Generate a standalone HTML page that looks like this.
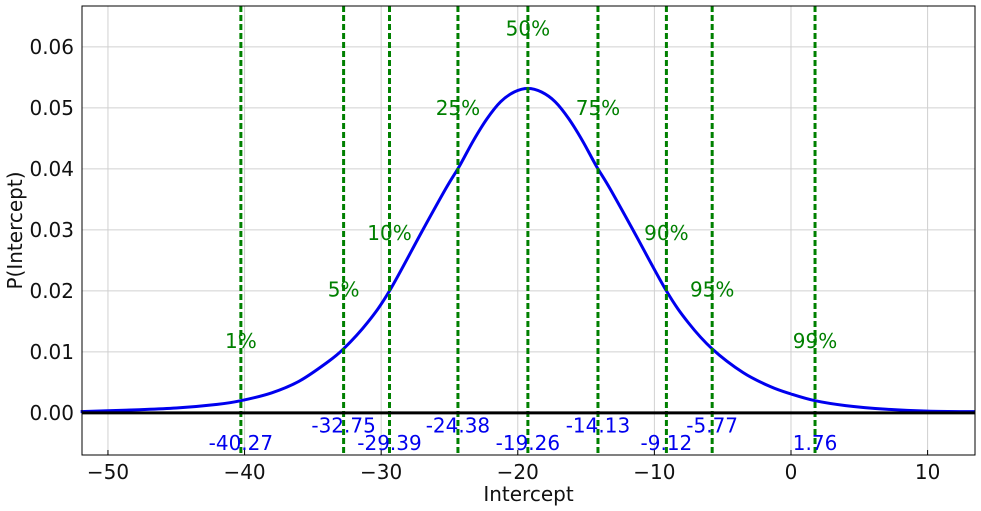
<!DOCTYPE html>
<html><head><meta charset="utf-8"><style>
body{margin:0;background:#fff;}
svg{display:block;font-family:"DejaVu Sans","Liberation Sans",sans-serif;}
</style></head><body>
<svg id="chart" width="981" height="511" viewBox="0 0 981 511" xmlns="http://www.w3.org/2000/svg"></svg>
<script>
const xTicks=[-50,-40,-30,-20,-10,0,10];
const yTicks=[0.00,0.01,0.02,0.03,0.04,0.05,0.06];
const curveX=[-52,-48,-45,-42,-40.27,-38,-36,-34,-32.75,-31,-29.39,-27,-25.26,-24.26,-23.26,-22.26,-21.26,-20.26,-19.26,-18.26,-17.26,-16.26,-15.26,-14.26,-13.26,-11.52,-9.12,-7.52,-5.77,-3.5,-1.5,0,1.76,4,7,10,13.5];
const curveY=[0.0002,0.0005,0.0008,0.0014,0.0020,0.0033,0.0052,0.0082,0.0105,0.0148,0.0200,0.0298,0.0368,0.0405,0.0446,0.0482,0.0510,0.0526,0.0532,0.0526,0.0510,0.0482,0.0446,0.0405,0.0368,0.0298,0.0200,0.0148,0.0105,0.0066,0.0043,0.0031,0.0020,0.0012,0.0006,0.0003,0.0002];
const qPct=["1%","5%","10%","25%","50%","75%","90%","95%","99%"];
const qVal=[-40.27,-32.75,-29.39,-24.38,-19.26,-14.13,-9.12,-5.77,1.76];
const qPctY=[0.0118,0.0202,0.0295,0.050,0.063,0.050,0.0295,0.0202,0.0118];
const qValY=[-0.0049,-0.0021,-0.0049,-0.0021,-0.0049,-0.0021,-0.0049,-0.0021,-0.0049];

const L=82,R=975,T=6,B=455;
const xMin=-51.9,xMax=13.47,yMin=-0.0069,yMax=0.0667;
const sx=v=>L+(v-xMin)/(xMax-xMin)*(R-L);
const sy=v=>B-(v-yMin)/(yMax-yMin)*(B-T);
const svg=document.getElementById('chart');
const NS="http://www.w3.org/2000/svg";
function mk(tag,attrs,parent){const e=document.createElementNS(NS,tag);for(const k in attrs)e.setAttribute(k,attrs[k]);(parent||svg).appendChild(e);return e;}

xTicks.forEach(t=>{
  const g=mk('line',{x1:sx(t),x2:sx(t),y1:T,y2:B,stroke:'#d0d0d0','stroke-width':1});
  
  
  const tk=mk('line',{x1:sx(t),x2:sx(t),y1:B,y2:B-5,stroke:'#000'});
  
  
  const lb=mk('text',{x:sx(t),y:B+24,'text-anchor':'middle','font-size':20,fill:'#111'});
  lb.textContent=(t<0?'\u2212'+(-t):t);
  
  
});
yTicks.forEach(t=>{
  const g=mk('line',{x1:L,x2:R,y1:sy(t),y2:sy(t),stroke:'#d0d0d0','stroke-width':1});
  
  
  const lb=mk('text',{x:L-8,y:sy(t)+7,'text-anchor':'end','font-size':20,fill:'#111'});
  lb.textContent=t.toFixed(2);
  
  
});

const pts=curveX.map((x,i)=>[sx(x),sy(curveY[i])]);
let d='M'+pts[0][0]+','+pts[0][1];
for(let i=0;i<pts.length-1;i++){
  const p0=pts[Math.max(0,i-1)],p1=pts[i],p2=pts[i+1],p3=pts[Math.min(pts.length-1,i+2)];
  d+=' C'+(p1[0]+(p2[0]-p0[0])/6)+','+(p1[1]+(p2[1]-p0[1])/6)+' '+(p2[0]-(p3[0]-p1[0])/6)+','+(p2[1]-(p3[1]-p1[1])/6)+' '+p2[0]+','+p2[1];
}
const cp=mk('path',{d:d,fill:'none',stroke:'#0000ee','stroke-width':3});



qVal.forEach((v,i)=>{
  const ln=mk('line',{x1:sx(v),x2:sx(v),y1:T,y2:B,stroke:'#008000','stroke-width':3,'stroke-dasharray':'6,3'});
  
  
  const p=mk('text',{x:sx(v),y:sy(qPctY[i])+7,'text-anchor':'middle','font-size':20,fill:'#008000'});
  p.textContent=qPct[i];
  
  
  const q=mk('text',{x:sx(v),y:sy(qValY[i])+7,'text-anchor':'middle','font-size':20,fill:'#0000ee'});
  q.textContent=v.toFixed(2);
  
  
});

const z=mk('line',{x1:L,x2:R,y1:sy(0),y2:sy(0),stroke:'#000','stroke-width':3});



const fr=mk('rect',{x:L,y:T,width:R-L,height:B-T,fill:'none',stroke:'#000','stroke-width':1});



const xt=mk('text',{x:(L+R)/2,y:501,'text-anchor':'middle','font-size':20,fill:'#111'});
xt.textContent='Intercept';


const yt=mk('text',{x:0,y:0,'text-anchor':'middle','font-size':20,fill:'#111',transform:'translate(22,'+((T+B)/2)+') rotate(-90)'});
yt.textContent='P(Intercept)';


</script>
</body></html>
